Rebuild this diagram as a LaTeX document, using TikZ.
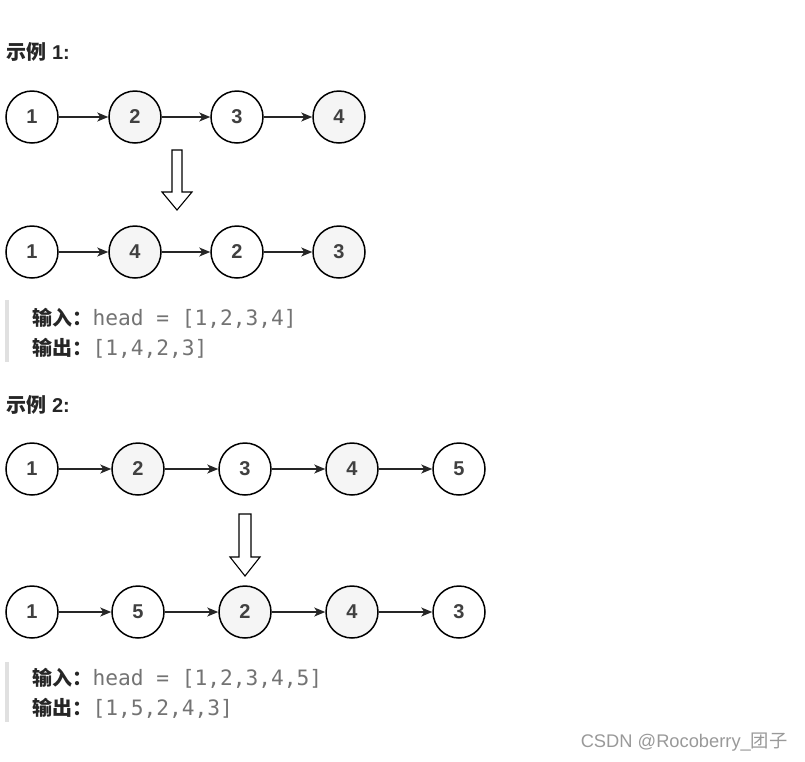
\documentclass[tikz,border=0pt]{standalone}
\usepackage{fontspec}
\setmainfont{Liberation Sans}
\setmonofont{DejaVu Sans Mono}
\newfontfamily\cjk{Noto Sans CJK SC}
\usepackage{tikz}
\usetikzlibrary{arrows.meta}
\usetikzlibrary{positioning}

\begin{document}
\begin{tikzpicture}[x=1pt, y=-1pt,
      list node/.style={draw, circle, line width=1.5pt, minimum size=52pt, inner sep=0pt,
        fill=white, text=black!75, font=\bfseries\fontsize{20}{20}\selectfont},
      swap node/.style={list node, fill=black!4},
      arr/.style={-{Stealth[length=11pt, width=9pt, inset=3pt]}, line width=1.3pt, draw=black!85},
      hollow/.style={draw, line width=1.1pt, fill=white, line join=miter},
      title text/.style={anchor=west, text=black!85, font=\bfseries\fontsize{20}{20}\selectfont},
      io text/.style={anchor=west, text=black!85, font=\fontsize{20}{20}\selectfont},
      bar/.style={fill=black!12}]
    \useasboundingbox (0,0) rectangle (805,761);

    % example 1
    \node[title text] (t1) at (3,52) {{\cjk\bfseries 示例} 1:};
    \node[list node] (a1) at (32,117) {1};
    \node[swap node] (a2) at (135,117) {2};
    \node[list node] (a3) at (237,117) {3};
    \node[swap node] (a4) at (339,117) {4};
    \draw[arr] (a1) -- (a2);
    \draw[arr] (a2) -- (a3);
    \draw[arr] (a3) -- (a4);
    \draw[hollow] (177,150) ++(-5,0) -- ++(10,0) -- ++(0,42) -- ++(10,0)
      -- ++(-15,18) -- ++(-15,-18) -- ++(10,0) -- cycle;
    \node[list node] (b1) at (32,252) {1};
    \node[swap node] (b2) at (135,252) {4};
    \node[list node] (b3) at (237,252) {2};
    \node[swap node] (b4) at (339,252) {3};
    \draw[arr] (b1) -- (b2);
    \draw[arr] (b2) -- (b3);
    \draw[arr] (b3) -- (b4);
    \fill[bar] (5,300) rectangle (9,362);
    \node[io text] (in1) at (29,318) {{\cjk\bfseries 输入：}{\fontsize{21.2}{21}\ttfamily\color{black!55}head = [1,2,3,4]}};
    \node[io text] (out1) at (29,348) {{\cjk\bfseries 输出：}{\fontsize{21.2}{21}\ttfamily\color{black!55}[1,4,2,3]}};

    % example 2
    \node[title text] (t2) at (3,405) {{\cjk\bfseries 示例} 2:};
    \node[list node] (c1) at (32,469) {1};
    \node[swap node] (c2) at (138,469) {2};
    \node[list node] (c3) at (245,469) {3};
    \node[swap node] (c4) at (352,469) {4};
    \node[list node] (c5) at (459,469) {5};
    \draw[arr] (c1) -- (c2);
    \draw[arr] (c2) -- (c3);
    \draw[arr] (c3) -- (c4);
    \draw[arr] (c4) -- (c5);
    \draw[hollow] (245,514) ++(-6,0) -- ++(12,0) -- ++(0,43) -- ++(9,0)
      -- ++(-15,19) -- ++(-15,-19) -- ++(9,0) -- cycle;
    \node[list node] (d1) at (32,612) {1};
    \node[list node] (d2) at (138,612) {5};
    \node[swap node] (d3) at (245,612) {2};
    \node[swap node] (d4) at (352,612) {4};
    \node[list node] (d5) at (459,612) {3};
    \draw[arr] (d1) -- (d2);
    \draw[arr] (d2) -- (d3);
    \draw[arr] (d3) -- (d4);
    \draw[arr] (d4) -- (d5);
    \fill[bar] (5,662) rectangle (9,722);
    \node[io text] (in2) at (29,678) {{\cjk\bfseries 输入：}{\fontsize{21.2}{21}\ttfamily\color{black!55}head = [1,2,3,4,5]}};
    \node[io text] (out2) at (29,708) {{\cjk\bfseries 输出：}{\fontsize{21.2}{21}\ttfamily\color{black!55}[1,5,2,4,3]}};

    \node[anchor=east, text=black!40, font=\fontsize{18.3}{18}\selectfont] (mark) at (791,742) {CSDN @Rocoberry\_{\cjk 团子}};
  \end{tikzpicture}
\end{document}
